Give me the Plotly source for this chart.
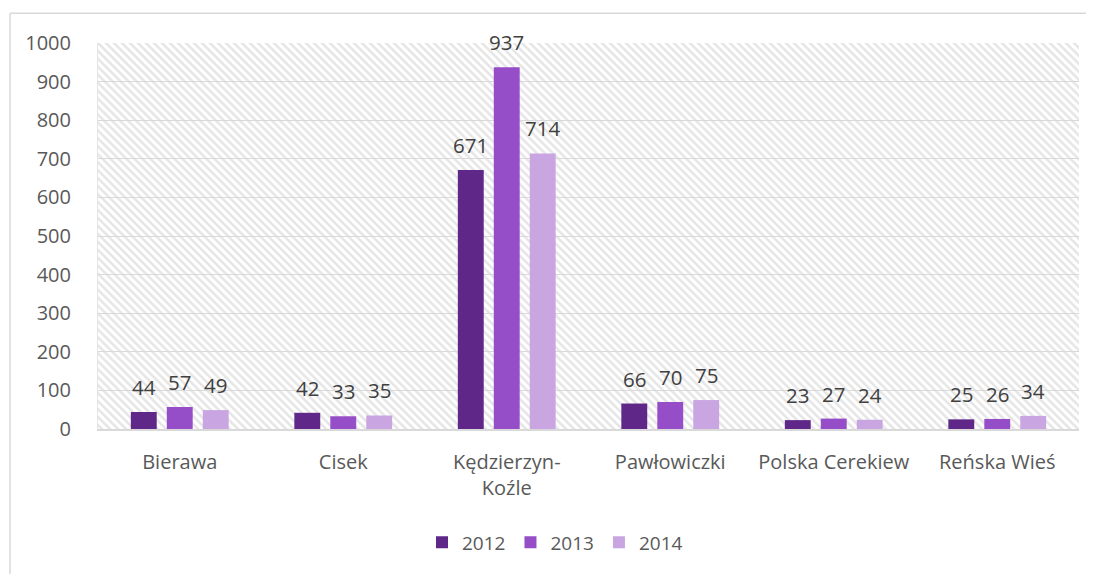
import base64
import plotly.graph_objects as go

categories = ["Bierawa", "Cisek", "Kędzierzyn-<br>Koźle", "Pawłowiczki", "Polska Cerekiew", "Reńska Wieś"]
years = ["2012", "2013", "2014"]
values_2012 = [44, 42, 671, 66, 23, 25]
values_2013 = [57, 33, 937, 70, 27, 26]
values_2014 = [49, 35, 714, 75, 24, 34]
colors = ["#5f2787", "#954ec8", "#c9a6e2"]
y_ticks = list(range(0, 1001, 100))

series = [values_2012, values_2013, values_2014]

OFF = 8  # page body margin
W, H = 1094 - OFF, 574 - OFF
# plot area in page coords: x 98..1079, y 43..431
L, T = 98 - OFF, 43 - OFF
R = W - (1079 - OFF)
B = H - (431 - OFF)
PW, PH = W - L - R, H - T - B

FONT = "Open Sans"
FS = 20

fig = go.Figure()
for name, vals, col in zip(years, series, colors):
    fig.add_trace(go.Bar(
        x=categories, y=vals, name=name,
        marker=dict(color=col, line=dict(width=0)),
        hoverinfo="x+y+name",
    ))

# data labels
slot = (PW / len(categories)) * (1 - 0.34) / 3
for i, vals in enumerate(series):
    for c, v in zip(categories, vals):
        fig.add_annotation(
            x=c, y=v, xref="x", yref="y", text=str(v), showarrow=False,
            xshift=(i - 1) * slot, yshift=25, yanchor="middle",
            font=dict(family=FONT, size=FS + 0.5, color="#404040"),
        )

# hatched plot background
svg = (
    f'<svg xmlns="http://www.w3.org/2000/svg" width="{PW}" height="{PH}" viewBox="0 0 {PW} {PH}">'
    '<defs><pattern id="p" width="8" height="8" patternUnits="userSpaceOnUse">'
    '<path d="M-2,6 L2,10 M0,0 L8,8 M6,-2 L10,2" stroke="#e6e6e6" stroke-width="2.6"/>'
    '</pattern></defs>'
    f'<rect width="{PW}" height="{PH}" fill="white"/>'
    f'<rect width="{PW}" height="{PH}" fill="url(#p)"/></svg>'
)
uri = "data:image/svg+xml;base64," + base64.b64encode(svg.encode()).decode()
fig.add_layout_image(
    source=uri, xref="x domain", yref="y domain", x=0, y=1,
    sizex=1, sizey=1, xanchor="left", yanchor="top",
    sizing="stretch", layer="below",
)

# outer chart border (left + top), page coords converted to paper fractions
def px(xp):
    return (xp - OFF - L) / PW

def py(yp):
    return (H - B - (yp - OFF)) / PH

fig.add_shape(type="line", xref="paper", yref="paper",
              x0=px(10), x1=px(10), y0=py(13), y1=py(600),
              line=dict(color="#d9d9d9", width=1.5))
fig.add_shape(type="line", xref="paper", yref="paper",
              x0=px(10), x1=px(1093), y0=py(13), y1=py(13),
              line=dict(color="#d9d9d9", width=1.5))

fig.update_layout(
    width=W, height=H,
    margin=dict(l=L, r=R, t=T, b=B, pad=0),
    paper_bgcolor="white", plot_bgcolor="rgba(0,0,0,0)",
    barmode="group", bargap=0.34, bargroupgap=0.28,
    font=dict(family=FONT, size=FS, color="#595959"),
    showlegend=True,
    legend=dict(orientation="h", x=px(555), xanchor="center", y=py(545), yanchor="middle",
                font=dict(family=FONT, size=FS - 1, color="#595959"), itemwidth=30,
                traceorder="normal"),
    xaxis=dict(showgrid=False, showline=True, linecolor="#d9d9d9", linewidth=1.5,
               ticks="", ticklabelstandoff=14, tickfont=dict(size=FS, color="#595959"),
               fixedrange=True),
    yaxis=dict(range=[0, 1000], tickvals=y_ticks, showgrid=True, gridcolor="#d9d9d9", gridwidth=1.3,
               showline=True, linecolor="#e4e4e4", linewidth=1, zeroline=False,
               ticks="", ticklabelstandoff=22, tickfont=dict(size=FS, color="#595959"),
               fixedrange=True),
)

fig.write_html("out.html")
